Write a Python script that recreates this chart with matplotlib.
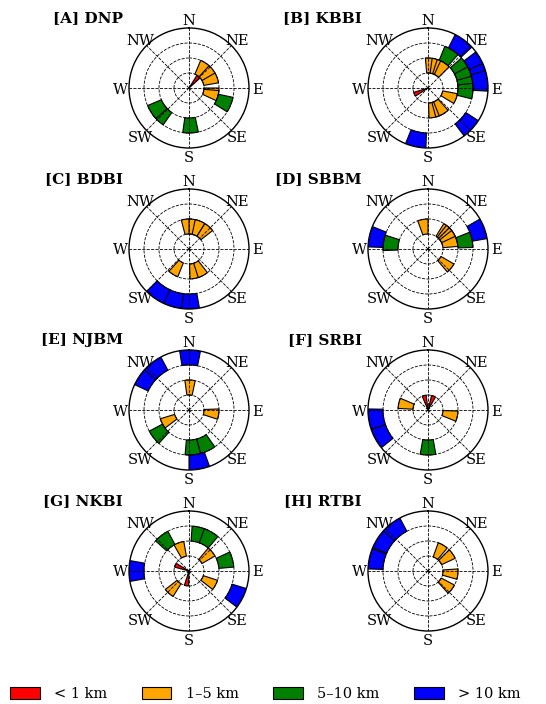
import numpy as np
import matplotlib.pyplot as plt
from matplotlib.patches import Patch

plt.rcParams['font.family'] = ['DejaVu Serif']

sites = ['[A] DNP', '[B] KBBI', '[C] BDBI', '[D] SBBM',
         '[E] NJBM', '[F] SRBI', '[G] NKBI', '[H] RTBI']

# bearings in degrees (clockwise from north), one list per site, per distance class
lt1 = [[40], [245], [], [], [], [345, 22], [293, 190], []]
km1_5 = [[33, 52, 70, 100, 105],
         [5, 18, 28, 35, 111, 168, 155, 148],
         [355, 10, 22, 42, 212, 168, 152],
         [350, 42, 48, 55, 62, 75, 130],
         [2, 98, 243],
         [283, 102],
         [340, 50, 118, 222],
         [30, 55, 96, 128]]
km5_10 = [[112, 178, 225, 237],
          [32, 58, 72, 85, 94],
          [],
          [78, 278],
          [232, 175, 155],
          [180],
          [322, 14, 30, 75],
          []]
gt10 = [[],
        [37, 63, 76, 83, 133, 192],
        [180, 197, 215],
        [70, 282],
        [1, 305, 322, 170],
        [261, 241],
        [270, 117],
        [282, 303, 322]]

classes = ['< 1 km', '1–5 km', '5–10 km', '> 10 km']
colors = ['red', 'orange', 'green', 'blue']
widths = [16, 20, 20, 20]
compass = ['N', 'NE', 'E', 'SE', 'S', 'SW', 'W', 'NW']

W, H = 546, 704
fig = plt.figure(figsize=(W / 100, H / 100), dpi=100)

col_x = [189, 428]
row_y = [88, 249, 410, 571]
rad = 60

for i, site in enumerate(sites):
    cx = col_x[i % 2]
    cy = row_y[i // 2]
    ax = fig.add_axes([(cx - rad) / W, 1 - (cy + rad) / H, 2 * rad / W, 2 * rad / H],
                      projection='polar')
    ax.set_theta_zero_location('N')
    ax.set_theta_direction(-1)
    for k, data in enumerate([lt1, km1_5, km5_10, gt10]):
        if data[i]:
            th = np.deg2rad(data[i])
            ax.bar(th, 1, width=np.deg2rad(widths[k]), bottom=k,
                   color=colors[k], edgecolor='black', linewidth=0.8)
    ax.set_ylim(0, 4)
    ax.set_yticks([1, 2, 3])
    ax.set_yticklabels([])
    angles = np.deg2rad(np.arange(0, 360, 45))
    ax.set_xticks(angles)
    ax.set_xticklabels([])
    ax.tick_params(axis='x', length=0)
    # compass labels centred on a fixed radius just outside the rim
    for a, lab in zip(angles, compass):
        ax.text(a, 4.55, lab, ha='center', va='center_baseline', fontsize=10.5,
                clip_on=False)
    ax.grid(True, color='black', linestyle='--', linewidth=0.6)
    ax.spines['polar'].set_linewidth(1.0)
    # site title, right-aligned left of the wind rose
    fig.text((cx - 66) / W, 1 - (cy - 70) / H, site, ha='right', va='center',
             fontsize=11, fontweight='bold')

handles = [Patch(facecolor=c, edgecolor='black', linewidth=0.8) for c in colors]
fig.legend(handles, classes, loc='lower center', ncol=4, frameon=False,
           bbox_to_anchor=(0.486, -0.014), fontsize=10.5, handlelength=2.05,
           handleheight=0.9, columnspacing=2.33, handletextpad=1.0)

fig.savefig('out.png', dpi=100)
